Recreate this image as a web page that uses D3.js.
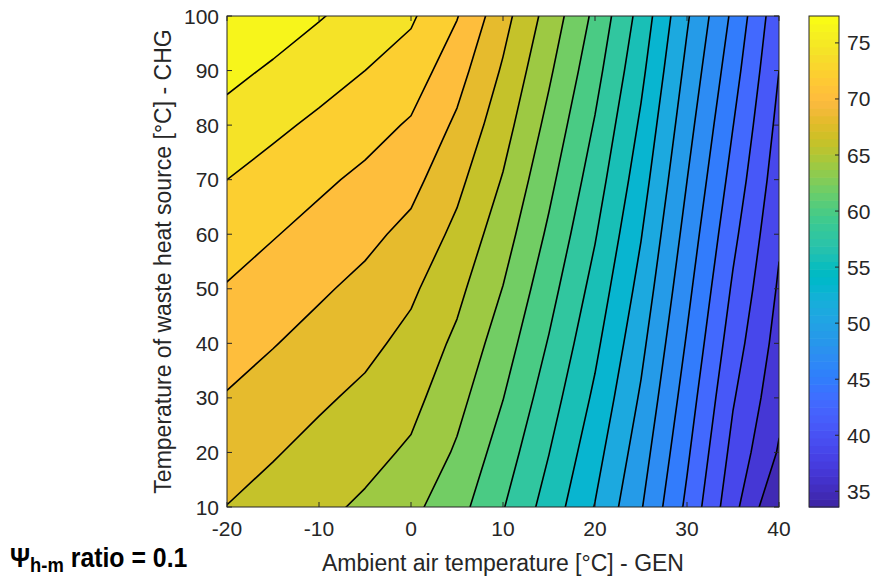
<!DOCTYPE html>
<html>
<head>
<meta charset="utf-8">
<script src="https://cdn.jsdelivr.net/npm/d3@7"></script>
<style>
  body { margin: 0; background: #fff; }
  svg { display: block; }
  text { font-family: "Liberation Sans", Arial, Helvetica, sans-serif; fill: #262626; }
</style>
</head>
<body>
<svg id="chart" width="879" height="581"></svg>
<script>
// Ambient air temperature grid (GEN side), °C
const ambientTemps = [-20, -15, -10, -5, 0, 5, 10, 15, 20, 25, 30, 35, 40];
// Waste heat source temperature grid (CHG side), °C
const sourceTemps = [10, 20, 30, 40, 50, 60, 70, 80, 90, 100];
// Surface values, one row per source temperature (10 °C first)
const surfaceRows = [
  [66.93, 66.16, 65.37, 64.55, 63.32, 61.49, 58.75, 55.65, 52.29, 48.37, 43.59, 38.44, 33.60],
  [67.93, 67.14, 66.32, 65.53, 64.57, 62.51, 59.75, 56.58, 53.16, 49.18, 44.36, 39.25, 35.48],
  [68.91, 68.12, 67.30, 66.51, 65.53, 63.49, 60.76, 57.52, 54.06, 50.01, 45.13, 40.04, 36.31],
  [69.97, 69.16, 68.33, 67.51, 66.37, 64.45, 61.74, 58.46, 54.94, 50.83, 45.91, 40.86, 36.94],
  [71.00, 70.16, 69.35, 68.51, 67.33, 65.43, 62.74, 59.40, 55.81, 51.66, 46.68, 41.65, 37.50],
  [72.12, 71.27, 70.43, 69.58, 68.49, 66.45, 63.74, 60.34, 56.71, 52.48, 47.45, 42.46, 38.06],
  [73.23, 72.39, 71.54, 70.70, 69.70, 67.53, 64.74, 61.26, 57.59, 53.31, 48.22, 43.28, 38.67],
  [74.54, 73.67, 72.81, 71.94, 70.91, 68.68, 65.74, 62.19, 58.46, 54.12, 48.99, 44.07, 39.25],
  [75.92, 75.02, 74.13, 73.23, 72.27, 69.89, 66.72, 63.13, 59.36, 54.96, 49.76, 44.88, 39.86],
  [77.40, 76.44, 75.46, 74.50, 73.52, 71.25, 67.72, 64.07, 60.23, 55.77, 50.54, 45.68, 40.48]
];
// Number of contour levels between the surface minimum and maximum
const levelCount = 20;

const xTicks = [-20, -10, 0, 10, 20, 30, 40];
const yTicks = [10, 20, 30, 40, 50, 60, 70, 80, 90, 100];
const colorbarTicks = [35, 40, 45, 50, 55, 60, 65, 70, 75];

const xTitle = "Ambient air temperature [°C] - GEN";
const yTitle = "Temperature of waste heat source [°C] - CHG";

// Parula colormap (64 entries)
const parula = [
  [0.2422,0.1504,0.6603],[0.2504,0.1650,0.7076],[0.2578,0.1818,0.7511],[0.2647,0.1978,0.7952],
  [0.2706,0.2147,0.8364],[0.2751,0.2342,0.8710],[0.2783,0.2559,0.8991],[0.2803,0.2782,0.9221],
  [0.2813,0.3006,0.9414],[0.2810,0.3228,0.9579],[0.2795,0.3447,0.9717],[0.2760,0.3667,0.9829],
  [0.2699,0.3892,0.9906],[0.2602,0.4123,0.9952],[0.2440,0.4358,0.9988],[0.2206,0.4603,0.9973],
  [0.1963,0.4847,0.9892],[0.1834,0.5074,0.9798],[0.1786,0.5289,0.9682],[0.1764,0.5499,0.9520],
  [0.1687,0.5703,0.9359],[0.1540,0.5902,0.9218],[0.1460,0.6091,0.9079],[0.1380,0.6276,0.8973],
  [0.1248,0.6459,0.8883],[0.1113,0.6635,0.8763],[0.0952,0.6798,0.8598],[0.0689,0.6948,0.8394],
  [0.0297,0.7082,0.8163],[0.0036,0.7203,0.7917],[0.0067,0.7312,0.7660],[0.0433,0.7411,0.7394],
  [0.0964,0.7500,0.7120],[0.1408,0.7584,0.6842],[0.1717,0.7670,0.6554],[0.1938,0.7758,0.6251],
  [0.2161,0.7843,0.5923],[0.2470,0.7918,0.5567],[0.2906,0.7973,0.5188],[0.3406,0.8008,0.4789],
  [0.3909,0.8029,0.4354],[0.4456,0.8024,0.3909],[0.5044,0.7993,0.3480],[0.5616,0.7942,0.3045],
  [0.6174,0.7876,0.2612],[0.6720,0.7793,0.2227],[0.7242,0.7698,0.1910],[0.7738,0.7598,0.1646],
  [0.8203,0.7498,0.1535],[0.8634,0.7406,0.1596],[0.9035,0.7330,0.1774],[0.9393,0.7288,0.2100],
  [0.9728,0.7298,0.2394],[0.9956,0.7434,0.2371],[0.9970,0.7659,0.2199],[0.9952,0.7893,0.2028],
  [0.9892,0.8136,0.1885],[0.9786,0.8386,0.1766],[0.9676,0.8639,0.1643],[0.9610,0.8890,0.1537],
  [0.9597,0.9135,0.1423],[0.9628,0.9373,0.1265],[0.9691,0.9606,0.1064],[0.9769,0.9839,0.0805]
].map(c => d3.rgb(c[0] * 255, c[1] * 255, c[2] * 255).formatHex());

const svg = d3.select("#chart");
const plot = { left: 227, top: 16, right: 779, bottom: 507 };
const bar = { left: 809, right: 839 };

const values = surfaceRows.flat();
const zMin = d3.min(values), zMax = d3.max(values);
const levels = d3.range(1, levelCount + 1).map(i => zMin + i * (zMax - zMin) / (levelCount + 1));
// Each filled band takes the colour at the middle of its value range
const bounds = [zMin, ...levels, zMax];
const bandMid = d3.range(bounds.length - 1).map(i => (bounds[i] + bounds[i + 1]) / 2);

// Discrete colormap lookup over [zMin, zMax]
const colorIndex = d3.scaleQuantize().domain([zMin, zMax]).range(parula);
const colorOf = v => colorIndex(Math.max(zMin, Math.min(zMax, v)));

const x = d3.scaleLinear().domain([-20, 40]).range([plot.left, plot.right]);
const y = d3.scaleLinear().domain([10, 100]).range([plot.bottom, plot.top]);

// Contour geometry lives in grid-cell coordinates; value k sits at k + 0.5
const nx = ambientTemps.length, ny = sourceTemps.length;
const stepX = ambientTemps[1] - ambientTemps[0];
const stepY = sourceTemps[1] - sourceTemps[0];
const gridToScreen = d3.geoTransform({
  point(gx, gy) {
    this.stream.point(
      x(ambientTemps[0] + (gx - 0.5) * stepX),
      y(sourceTemps[0] + (gy - 0.5) * stepY)
    );
  }
});
const path = d3.geoPath(gridToScreen);
const bands = d3.contours().size([nx, ny]).thresholds(levels)(values);

svg.append("defs").append("clipPath").attr("id", "plot-clip")
  .append("rect")
  .attr("x", plot.left).attr("y", plot.top)
  .attr("width", plot.right - plot.left).attr("height", plot.bottom - plot.top);

const field = svg.append("g").attr("clip-path", "url(#plot-clip)");
field.append("rect")
  .attr("x", plot.left).attr("y", plot.top)
  .attr("width", plot.right - plot.left).attr("height", plot.bottom - plot.top)
  .attr("fill", colorOf(bandMid[0]));
field.selectAll("path.band").data(bands).join("path")
  .attr("class", "band")
  .attr("d", path)
  .attr("fill", (d, i) => colorOf(bandMid[i + 1]))
  .attr("stroke", (d, i) => colorOf(bandMid[i + 1]))
  .attr("stroke-width", 0.5);
field.selectAll("path.isoline").data(bands).join("path")
  .attr("class", "isoline")
  .attr("d", path)
  .attr("fill", "none")
  .attr("stroke", "#000")
  .attr("stroke-width", 1.6)
  .attr("stroke-linejoin", "round");

// Axes frame with inward ticks on all four sides
const axisColor = "#262626";
const tickLen = 5;
const frame = svg.append("g");
frame.append("rect")
  .attr("x", plot.left).attr("y", plot.top)
  .attr("width", plot.right - plot.left).attr("height", plot.bottom - plot.top)
  .attr("fill", "none").attr("stroke", axisColor).attr("stroke-width", 1);

const xTickG = frame.selectAll("g.xt").data(xTicks).join("g").attr("class", "xt");
xTickG.append("line")
  .attr("x1", d => x(d)).attr("x2", d => x(d))
  .attr("y1", plot.bottom).attr("y2", plot.bottom - tickLen)
  .attr("stroke", axisColor);
xTickG.append("line")
  .attr("x1", d => x(d)).attr("x2", d => x(d))
  .attr("y1", plot.top).attr("y2", plot.top + tickLen)
  .attr("stroke", axisColor);
xTickG.append("text")
  .attr("x", d => x(d)).attr("y", 536)
  .attr("text-anchor", "middle")
  .attr("font-size", 21)
  .text(d => d);

const yTickG = frame.selectAll("g.yt").data(yTicks).join("g").attr("class", "yt");
yTickG.append("line")
  .attr("x1", plot.left).attr("x2", plot.left + tickLen)
  .attr("y1", d => y(d)).attr("y2", d => y(d))
  .attr("stroke", axisColor);
yTickG.append("line")
  .attr("x1", plot.right).attr("x2", plot.right - tickLen)
  .attr("y1", d => y(d)).attr("y2", d => y(d))
  .attr("stroke", axisColor);
yTickG.append("text")
  .attr("x", plot.left - 8).attr("y", d => y(d) + 7.5)
  .attr("text-anchor", "end")
  .attr("font-size", 21)
  .text(d => d);

svg.append("text")
  .attr("x", (plot.left + plot.right) / 2).attr("y", 571)
  .attr("text-anchor", "middle").attr("font-size", 23)
  .text(xTitle);
svg.append("text")
  .attr("transform", `translate(171, ${(plot.top + plot.bottom) / 2}) rotate(-90)`)
  .attr("text-anchor", "middle").attr("font-size", 23)
  .text(yTitle);

// Colorbar
const cbY = d3.scaleLinear().domain([zMin, zMax]).range([plot.bottom, plot.top]);
const cbSteps = d3.range(parula.length);
svg.append("g").selectAll("rect").data(cbSteps).join("rect")
  .attr("x", bar.left)
  .attr("width", bar.right - bar.left)
  .attr("y", i => cbY(zMin + (i + 1) * (zMax - zMin) / parula.length))
  .attr("height", i => cbY(zMin + i * (zMax - zMin) / parula.length) - cbY(zMin + (i + 1) * (zMax - zMin) / parula.length) + 0.6)
  .attr("fill", i => parula[i]);
svg.append("rect")
  .attr("x", bar.left).attr("y", plot.top)
  .attr("width", bar.right - bar.left).attr("height", plot.bottom - plot.top)
  .attr("fill", "none").attr("stroke", axisColor).attr("stroke-width", 1);
const cbTickG = svg.append("g").selectAll("g").data(colorbarTicks).join("g");
cbTickG.append("line")
  .attr("x1", bar.right).attr("x2", bar.right - 4)
  .attr("y1", d => cbY(d)).attr("y2", d => cbY(d))
  .attr("stroke", axisColor);
cbTickG.append("text")
  .attr("x", bar.right + 8).attr("y", d => cbY(d) + 7.5)
  .attr("font-size", 21)
  .text(d => d);

// Panel annotation, set in a condensed bold face
const note = svg.append("text")
  .attr("transform", "translate(10, 567) scale(0.92, 1)")
  .attr("font-weight", "bold").attr("font-size", 27)
  .style("fill", "#000");
note.append("tspan").text("Ψ");
note.append("tspan").attr("font-size", 20).attr("dy", 5).text("h-m");
note.append("tspan").attr("dy", -5).text(" ratio = 0.1");
</script>
</body>
</html>
